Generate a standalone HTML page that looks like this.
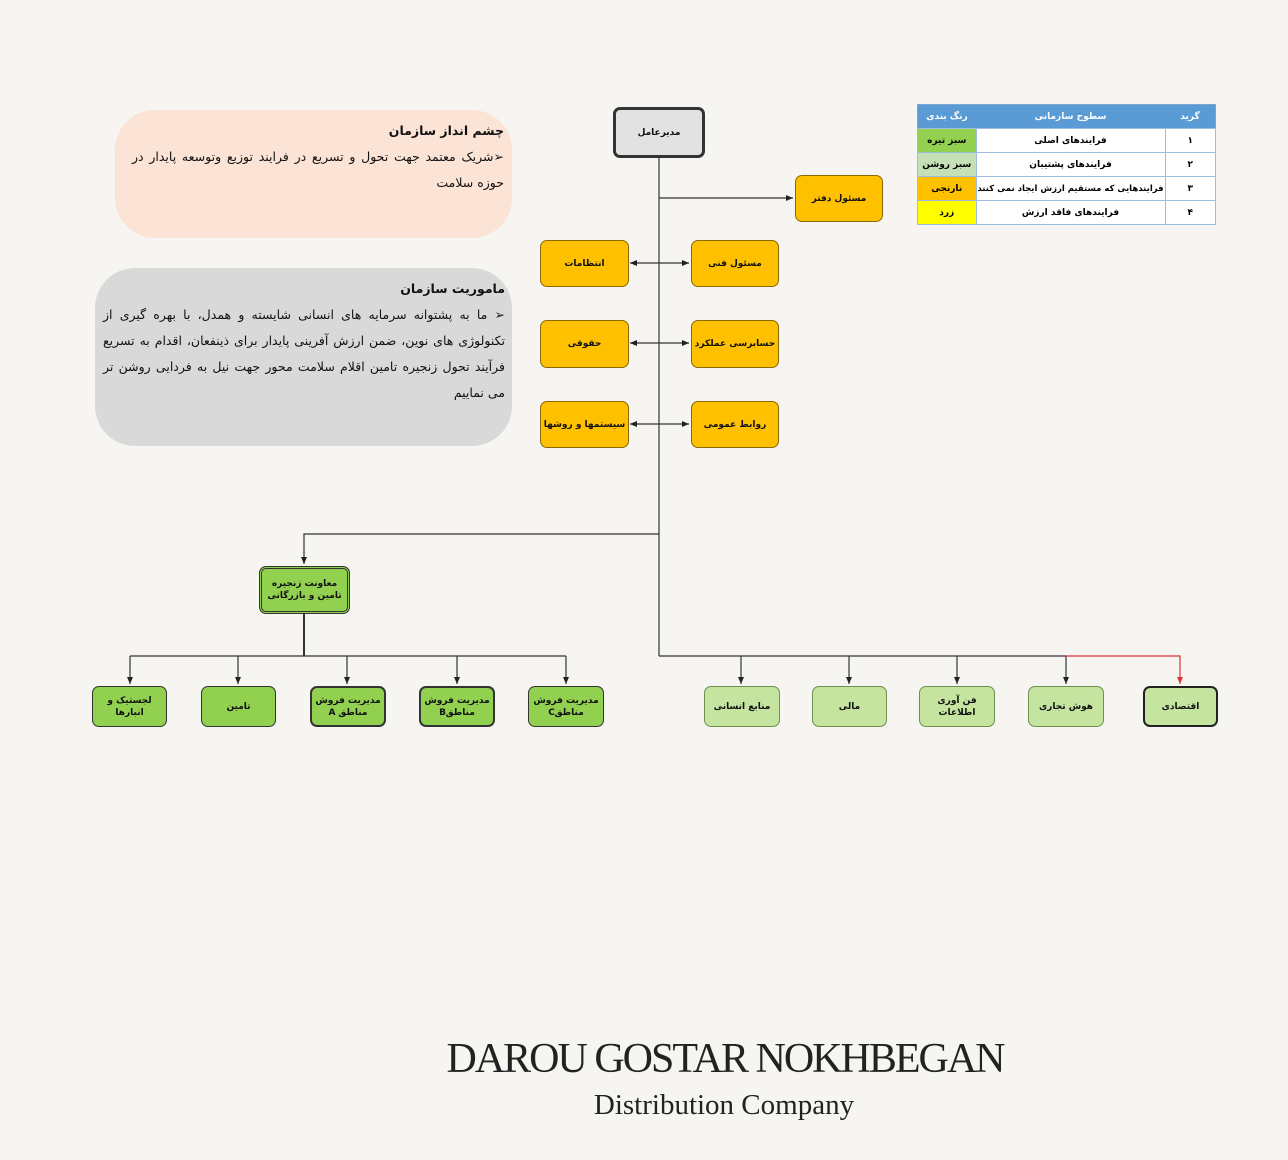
<!DOCTYPE html>
<html><head><meta charset="utf-8"><style>
body{margin:0;width:1288px;height:1160px;background:#f6f5f1;position:relative;overflow:hidden;font-family:"DejaVu Sans","Liberation Sans",sans-serif}
.b{position:absolute;box-sizing:border-box;border:1.5px solid #555;border-radius:7px;display:flex;align-items:center;justify-content:center;text-align:center;font-size:9px;font-weight:bold;line-height:12px;direction:rtl;color:#111;white-space:nowrap;letter-spacing:-0.3px}
.o{background:#ffc000;border-color:#8a6a00}
.g{background:#92d050;border:2px solid #333}
.lg{background:#c5e4a0;border-color:#6f8f4f}
.t{position:absolute;direction:rtl;text-align:justify;font-size:12.5px;line-height:26px;color:#111}
table{position:absolute;left:917px;top:104px;width:299px;height:121px;border-collapse:collapse;font-size:9px;font-weight:bold;direction:rtl;text-align:center;border:1px solid #7aa6d6}
td{border:1px solid #9bbde0;padding:0;background:#fff}
th{background:#5b9bd5;color:#fff;font-size:9px;height:21px}
</style></head><body>
<svg width="1288" height="1160" style="position:absolute;left:0;top:0">
<defs><marker id="a" markerWidth="8" markerHeight="8" refX="7" refY="4" orient="auto" markerUnits="userSpaceOnUse"><path d="M0,1 L7,4 L0,7z" fill="#222"/></marker>
<marker id="r" markerWidth="8" markerHeight="8" refX="7" refY="4" orient="auto" markerUnits="userSpaceOnUse"><path d="M0,1 L7,4 L0,7z" fill="#d33"/></marker></defs>
<g stroke="#333" stroke-width="1.2" fill="none">
<path d="M659 157 V656"/>
<path d="M659 198 H793" marker-end="url(#a)"/>
<path d="M659 263 H689" marker-end="url(#a)"/><path d="M659 263 H630" marker-end="url(#a)"/>
<path d="M659 343 H689" marker-end="url(#a)"/><path d="M659 343 H630" marker-end="url(#a)"/>
<path d="M659 424 H689" marker-end="url(#a)"/><path d="M659 424 H630" marker-end="url(#a)"/>
<path d="M659 534 H304 V564" marker-end="url(#a)"/>
<path d="M304 613 V656" stroke-width="2"/>
<path d="M130 656 H566"/>
<path d="M130 656 V684" marker-end="url(#a)"/><path d="M238 656 V684" marker-end="url(#a)"/><path d="M347 656 V684" marker-end="url(#a)"/><path d="M457 656 V684" marker-end="url(#a)"/><path d="M566 656 V684" marker-end="url(#a)"/>
<path d="M659 656 H1066"/>
<path d="M741 656 V684" marker-end="url(#a)"/><path d="M849 656 V684" marker-end="url(#a)"/><path d="M957 656 V684" marker-end="url(#a)"/><path d="M1066 656 V684" marker-end="url(#a)"/>
<path d="M1066 656 H1180 V684" stroke="#d33" marker-end="url(#r)"/>
</g>
<rect x="115" y="110" width="397" height="128" rx="40" fill="#fbe3d5"/>
<rect x="95" y="268" width="417" height="178" rx="40" fill="#d9d9d9"/>
</svg>
<div class="t" style="left:132px;top:118px;width:372px">
<b>چشم انداز سازمان</b><br>➢شریک معتمد جهت تحول و تسریع در فرایند توزیع وتوسعه پایدار در حوزه سلامت</div>
<div class="t" style="left:103px;top:276px;width:402px">
<b>ماموریت سازمان</b><br>➢ ما به پشتوانه سرمایه های انسانی شایسته و همدل، با بهره گیری از تکنولوژی های نوین، ضمن ارزش آفرینی پایدار برای ذینفعان، اقدام به تسریع فرآیند تحول زنجیره تامین اقلام سلامت محور جهت نیل به فردایی روشن تر می نماییم</div>
<div class="b" style="left:613px;top:107px;width:92px;height:51px;background:#e2e2e2;border:3px solid #333">مدیرعامل</div>
<div class="b o" style="left:795px;top:175px;width:88px;height:47px">مسئول دفتر</div>
<div class="b o" style="left:540px;top:240px;width:89px;height:47px">انتظامات</div>
<div class="b o" style="left:691px;top:240px;width:88px;height:47px">مسئول فنی</div>
<div class="b o" style="left:540px;top:320px;width:89px;height:48px">حقوقی</div>
<div class="b o" style="left:691px;top:320px;width:88px;height:48px">حسابرسی عملکرد</div>
<div class="b o" style="left:540px;top:401px;width:89px;height:47px">سیستمها و روشها</div>
<div class="b o" style="left:691px;top:401px;width:88px;height:47px">روابط عمومی</div>
<div class="b g" style="left:259px;top:566px;width:91px;height:48px;border:3px double #333">معاونت زنجیره<br>تامین و بازرگانی</div>
<div class="b g" style="left:92px;top:686px;width:75px;height:41px;border-width:1px">لجستیک و<br>انبارها</div>
<div class="b g" style="left:201px;top:686px;width:75px;height:41px;border-width:1px">تامین</div>
<div class="b g" style="left:310px;top:686px;width:76px;height:41px">مدیریت فروش<br>مناطق A</div>
<div class="b g" style="left:419px;top:686px;width:76px;height:41px">مدیریت فروش<br>مناطقB</div>
<div class="b g" style="left:528px;top:686px;width:76px;height:41px;border-width:1px">مدیریت فروش<br>مناطقC</div>
<div class="b lg" style="left:704px;top:686px;width:76px;height:41px">منابع انسانی</div>
<div class="b lg" style="left:812px;top:686px;width:75px;height:41px">مالی</div>
<div class="b lg" style="left:919px;top:686px;width:76px;height:41px">فن آوری<br>اطلاعات</div>
<div class="b lg" style="left:1028px;top:686px;width:76px;height:41px">هوش تجاری</div>
<div class="b lg" style="left:1143px;top:686px;width:75px;height:41px;border:2px solid #222">اقتصادی</div>
<table>
<tr><th style="width:48px">گرید</th><th>سطوح سازمانی</th><th style="width:56px">رنگ بندی</th></tr>
<tr><td>۱</td><td>فرایندهای اصلی</td><td style="background:#92d050">سبز تیره</td></tr>
<tr><td>۲</td><td>فرایندهای پشتیبان</td><td style="background:#c5e0b4">سبز روشن</td></tr>
<tr><td>۳</td><td style="font-size:8.5px">فرایندهایی که مستقیم ارزش ایجاد نمی کنند</td><td style="background:#ffc000">نارنجی</td></tr>
<tr><td>۴</td><td>فرایندهای فاقد ارزش</td><td style="background:#ffff00">زرد</td></tr>
</table>
<div style="position:absolute;left:0;width:1450px;top:1035px;text-align:center;font-family:'Liberation Serif',serif;font-size:42px;letter-spacing:-2px;color:#222">DAROU GOSTAR NOKHBEGAN</div>
<div style="position:absolute;left:0;width:1448px;top:1089px;text-align:center;font-family:'Liberation Serif',serif;font-size:29px;color:#222">Distribution Company</div>
</body></html>
